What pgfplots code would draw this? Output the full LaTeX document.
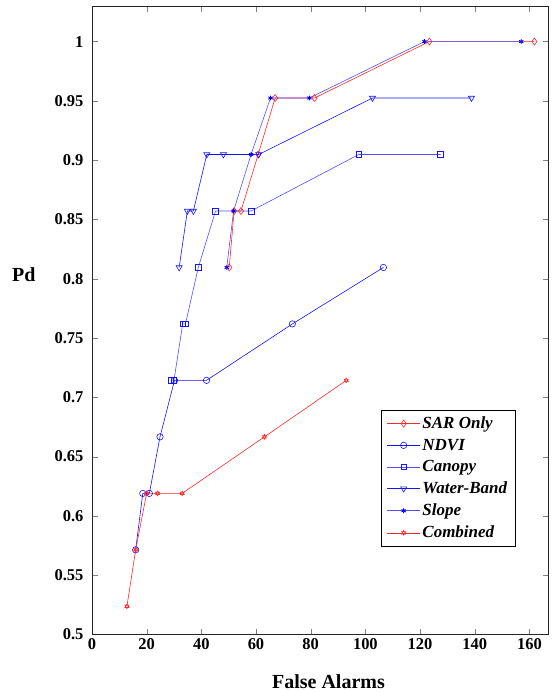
\documentclass[border=0pt]{standalone}
\usepackage{pgfplots}
\pgfplotsset{compat=1.18}
\usepackage{fontspec}
\setmainfont{Liberation Serif}
\definecolor{myred}{RGB}{255,40,40}
\definecolor{myblue}{RGB}{20,20,255}
\definecolor{lblue}{RGB}{80,80,255}
\pgfdeclareplotmark{hexagram}{%
 \pgfpathmoveto{\pgfqpointpolar{90}{\pgfplotmarksize}}%
 \pgfpathlineto{\pgfqpointpolar{210}{\pgfplotmarksize}}%
 \pgfpathlineto{\pgfqpointpolar{330}{\pgfplotmarksize}}%
 \pgfpathclose
 \pgfpathmoveto{\pgfqpointpolar{270}{\pgfplotmarksize}}%
 \pgfpathlineto{\pgfqpointpolar{30}{\pgfplotmarksize}}%
 \pgfpathlineto{\pgfqpointpolar{150}{\pgfplotmarksize}}%
 \pgfpathclose
 \pgfusepathqstroke}
\begin{document}
\begin{tikzpicture}
\begin{axis}[
 scale only axis, width=457pt, height=629pt,
 xmin=0, xmax=167, ymin=0.5, ymax=1.03,
 xtick={0,20,...,160},
 ytick={0.5,0.55,0.6,0.65,0.7,0.75,0.8,0.85,0.9,0.95,1},
 yticklabels={0.5,0.55,0.6,0.65,0.7,0.75,0.8,0.85,0.9,0.95,1},
 tick align=inside, major tick length=6pt,
 /pgf/number format/assume math mode=true,
 tick label style={font=\fontsize{16.5}{18}\selectfont\bfseries},
 xticklabel style={yshift=-1pt},
 yticklabel style={xshift=-5pt},
 axis line style={line width=0.7pt, black!85},
 xlabel={False Alarms}, ylabel={Pd},
 xlabel style={font=\fontsize{20}{22}\selectfont\bfseries, at={(axis description cs:0.518,-0.075)}, anchor=center},
 ylabel style={font=\fontsize{20}{22}\selectfont\bfseries, rotate=-90, at={(axis description cs:-0.149,0.572)}, anchor=center},
 legend style={at={(0.632,0.357)}, anchor=north west, draw=black, line width=0.7pt,
   font=\fontsize{17}{19}\selectfont\bfseries\itshape, row sep=4.8pt, inner xsep=6pt, inner ysep=4.5pt},
 legend cell align=left,
 legend image code/.code={\draw[mark repeat=2,mark phase=2] plot coordinates {(0pt,0pt) (16.5pt,0pt) (33pt,0pt)};},
 every axis plot/.append style={line width=0.6pt},
]
\addplot[myred, mark=diamond, mark size=3.5pt] coordinates {
 (50.2,0.8095) (52,0.8571) (54.5,0.8571) (60.8,0.9048) (67,0.9524) (81.4,0.9524) (123.4,1) (161.8,1)};
\addlegendentry{SAR Only}
\addplot[myblue, mark=o, mark size=3.2pt] coordinates {
 (16,0.5714) (18.6,0.6190) (21,0.6190) (24.9,0.6667) (30.2,0.7143) (41.9,0.7143) (73.3,0.7619) (106.6,0.8095)};
\addlegendentry{NDVI}
\addplot[lblue, mark=square, mark size=2.8pt, mark options={draw=myblue}] coordinates {
 (28.8,0.7143) (30,0.7143) (33.2,0.7619) (34.2,0.7619) (38.9,0.8095) (45.2,0.8571) (58.2,0.8571) (97.6,0.9048) (127.5,0.9048)};
\addlegendentry{Canopy}
\addplot[myblue, mark=triangle, mark size=3.5pt, mark options={rotate=180}] coordinates {
 (31.9,0.8095) (34.9,0.8571) (37.1,0.8571) (42,0.9048) (48.1,0.9048) (61,0.9048) (102.6,0.9524) (138.8,0.9524)};
\addlegendentry{Water-Band}
\addplot[lblue, mark=asterisk, mark size=2.4pt, mark options={draw=blue, line width=0.9pt}] coordinates {
 (49.3,0.8095) (51.8,0.8571) (58.2,0.9048) (65.3,0.9524) (79.5,0.9524) (121.6,1) (157,1)};
\addlegendentry{Slope}
\addplot[myred, mark=hexagram, mark size=2.4pt] coordinates {
 (12.8,0.5238) (16,0.5714) (20,0.6190) (24,0.6190) (33,0.6190) (63.1,0.6667) (93,0.7143)};
\addlegendentry{Combined}
\end{axis}
\path (current axis.south west) ++(-92pt,-57pt) coordinate (bbA);
\path (current axis.north east) ++(4pt,6pt) coordinate (bbB);
\path (bbA) rectangle (bbB);
\end{tikzpicture}
\end{document}
